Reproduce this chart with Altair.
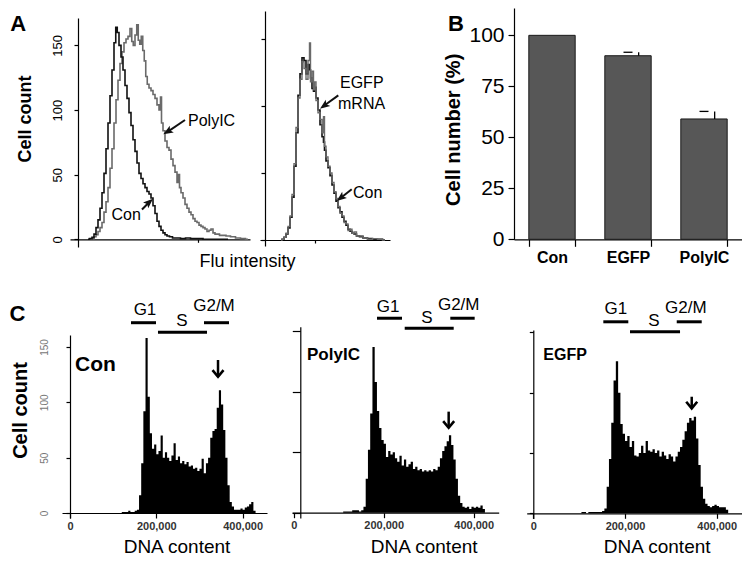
import altair as alt
import pandas as pd

FONT = "Liberation Sans"
W, H = 734, 549

# ======================= DATA =======================
# ---- Panel A (left): flow cytometry histograms (Con vs PolyIC) ----
a1_con_x = [10, 13, 15, 17, 19, 21, 23, 25, 27, 29, 31, 33, 35, 37, 38.5, 40, 42, 44, 46, 48,
            50, 52, 54, 56, 58, 60, 62, 64, 66, 68, 70, 72, 74, 76, 78, 80, 82, 84, 86, 88,
            90, 93, 96, 100, 105, 110, 115, 120, 130, 140, 150]
a1_con_y = [0, 0.5, 1.5, 4, 9, 15, 24, 36, 51, 70, 90, 111, 131, 152, 164, 160, 150, 141, 131, 119,
            109, 98, 88, 77, 68, 59, 51, 47, 43, 40, 37, 35, 32, 26, 20, 14, 10, 7, 5, 3.5,
            2.5, 2, 1, 1, 0.5, 1, 0.5, 0.5, 0, 0, 0]
a1_pic_x = [12, 15, 17, 19, 21, 23, 25, 27, 29, 31, 33, 35, 37, 39, 41, 43, 45, 47, 49, 51,
            53, 54.5, 56, 58, 59.5, 61, 62.5, 64, 65.5, 67, 68.5, 70, 72, 74, 76, 78, 80, 82, 83, 84,
            86, 88, 90, 92, 94, 96, 98, 100, 101, 102, 104, 106, 108, 110, 112, 114, 116, 118, 120, 122,
            124, 126, 128, 130, 132, 134, 136, 138, 140, 143, 146, 150, 155, 160, 165, 170]
a1_pic_y = [0, 0.5, 2, 3.5, 6, 9, 13, 21, 29, 40, 55, 70, 90, 108, 123, 136, 145, 152, 155, 157,
            163, 153, 150, 158, 166, 154, 151, 157, 146, 138, 126, 120, 117, 115, 112, 109, 104, 100, 110, 90,
            84, 76, 71, 69, 62, 57, 52, 44, 50, 40, 36, 32, 27, 24, 21, 19, 16, 14, 13, 11,
            10, 9, 8, 6, 7, 8, 5, 4, 4, 3, 3, 2.5, 2, 1, 0.5, 0]

# ---- Panel A (right): Con vs EGFP mRNA ----
a2_x = [16, 18, 20, 22, 24, 26, 28, 30, 32, 34, 36, 38, 40, 42, 44, 45, 46, 48, 49, 50,
        52, 54, 56, 58, 59, 60, 62, 64, 66, 68, 70, 72, 74, 76, 78, 80, 82, 84, 86, 88,
        90, 93, 96, 100, 105, 110, 115, 120]
a2_con_y = [0, 0.5, 2, 4.5, 9, 17, 32, 55, 80, 108, 124, 136, 134, 124, 131, 127, 121, 113, 111, 114,
            106, 97, 86, 77, 73, 67, 59, 54, 48, 41, 35, 29, 24, 21, 17, 14, 11, 8, 6.5, 5,
            4.5, 3, 2.5, 1.5, 1, 0.5, 0.5, 0]
a2_egfp_y = [0, 0.5, 2, 5, 10, 18, 34, 57, 84, 106, 120, 133, 128, 120, 134, 147, 118, 126, 112, 118,
             104, 95, 90, 80, 92, 70, 62, 55, 50, 43, 36, 31, 25, 20, 18, 13, 12, 7, 8, 5,
             6, 3, 3, 1.5, 0.5, 1, 0.5, 0]

# annotations of panel A
a1_text = ["PolyIC", "Con"]
a1_text_x = [110, 33.5]
a1_text_y = [91.5, 18.8]
a1_arrow_x = [107, 64]
a1_arrow_y = [92.3, 23.0]
a1_head_x = [90.6, 70.4]
a1_head_y = [83.7, 28.1]
a1_head_angle = [238.5, 47.8]

a2_text = ["EGFP", "mRNA", "Con"]
a2_text_x = [75, 73, 88]
a2_text_y = [117.2, 101.5, 35.1]
a2_arrow_x = [73.3, 86.7]
a2_arrow_y = [107.9, 37.8]
a2_head_x = [60, 76.6]
a2_head_y = [100.7, 31.9]
a2_head_angle = [233.8, 232.1]

# ---- Panel B ----
b_groups = ["Con", "EGFP", "PolyIC"]
b_values = [100, 90, 59]
b_errors = [0, 1.7, 3.7]

# ---- Panel C: DNA content histograms ----
c_bin_width = 5000
c_con_start = 120000
c_con_counts = [1, 1, 1, 2, 1, 1, 2, 3, 16, 45, 92, 158, 105, 72, 58, 62, 53, 56, 70, 50,
                55, 50, 47, 52, 63, 48, 51, 45, 47, 44, 46, 42, 43, 40, 41, 38, 40, 49, 36, 45,
                50, 68, 74, 76, 95, 111, 98, 75, 50, 25, 10, 6, 3, 3, 3, 4, 3, 5, 6, 8, 10, 2]
c_pic_start = 110000
c_pic_counts = [1, 1, 1, 1, 2, 2, 2, 1, 2, 5, 28, 52, 82, 137, 108, 84, 70, 60, 57, 46,
                51, 48, 50, 45, 42, 47, 39, 44, 38, 40, 42, 36, 38, 35, 36, 34, 35, 34, 35, 34,
                36, 35, 38, 45, 51, 55, 59, 64, 56, 44, 28, 14, 8, 5, 4, 5, 3, 5, 4, 5, 4, 6, 3]
c_egfp_start = 105000
c_egfp_counts = [1, 1, 0, 1, 1, 1, 1, 1, 1, 2, 4, 22, 45, 75, 110, 126, 100, 74, 66, 60,
                 64, 55, 60, 48, 47, 50, 56, 50, 60, 52, 51, 53, 50, 52, 47, 51, 48, 45, 49, 47,
                 43, 47, 51, 55, 61, 68, 75, 79, 77, 80, 62, 40, 22, 12, 8, 6, 5, 6, 7, 6,
                 5, 5, 5, 3]

c_phases = ["G1", "S", "G2/M"]
c_con_bar_x1 = [141400, 203900, 310500]
c_con_bar_x2 = [199300, 317500, 368500]
c_con_bar_y = [171.9, 163.2, 171.9]
c_con_lab_x = [173800, 259600, 333700]
c_con_lab_y = [183.4, 173.4, 187.0]
c_pic_bar_x1 = [185100, 246700, 348000]
c_pic_bar_x2 = [240700, 355600, 402200]
c_pic_bar_y = [160.7, 152.4, 160.7]
c_pic_lab_x = [209600, 296200, 366700]
c_pic_lab_y = [170.2, 160.7, 171.7]
c_egfp_bar_x1 = [152700, 210900, 312800]
c_egfp_bar_x2 = [207200, 320000, 367300]
c_egfp_bar_y = [158.7, 150.5, 158.7]
c_egfp_lab_x = [179900, 263300, 332600]
c_egfp_lab_y = [169.1, 159.5, 170.5]

# G2/M arrows (x, shaft top, tip)
c_arrow_x = [343000, 344400, 345500]
c_arrow_top = [138.2, 83.5, 96.6]
c_arrow_tip = [123.1, 70.2, 87.0]
c_head_y = [126.1, 72.9, 89.7]

c_names = ["Con", "PolyIC", "EGFP"]
c_name_x = [11600, 29600, 21800]
c_name_y = [133.7, 130.3, 131.2]
c_name_size = [21, 17, 16]

# ======================= HELPERS =======================
AX = dict(grid=False, domainColor="black", tickColor="black", labelColor="black",
          titleColor="black", domainWidth=1.2, tickWidth=1.2, labelFont=FONT, titleFont=FONT)


def sc(dom, rng):
    return alt.Scale(domain=list(dom), range=list(rng), nice=False, zero=False)


def ax_x(gy, **kw):
    d = dict(AX, orient="bottom", offset=gy - H, labelFlush=False)
    d.update(kw)
    return alt.Axis(**d)


def ax_y(gx, **kw):
    d = dict(AX, orient="left", offset=-gx)
    d.update(kw)
    return alt.Axis(**d)


def enc_xy(P, xf="x:Q", yf="y:Q", xaxis=None, yaxis=None):
    return dict(x=alt.X(xf, scale=sc(P["xd"], P["xr"]), axis=xaxis),
                y=alt.Y(yf, scale=sc(P["yd"], P["yr"]), axis=yaxis))


def text_layer(P, texts, xs, ys, size, weight="normal", align="left"):
    df = pd.DataFrame({"x": xs, "y": ys, "t": texts})
    return alt.Chart(df).mark_text(align=align, baseline="middle", fontSize=size,
                                   fontWeight=weight, font=FONT, color="black").encode(
        text="t:N", **enc_xy(P))


def arrow_layers(P, ax, ay, hx, hy, ang):
    df = pd.DataFrame({"x": ax, "y": ay, "hx": hx, "hy": hy, "a": ang})
    shaft = alt.Chart(df).mark_rule(color="#111", strokeWidth=2).encode(
        x2="hx:Q", y2="hy:Q", **enc_xy(P))
    head = alt.Chart(df).mark_point(shape="M0,-1L0.62,0.6L0,0.25L-0.62,0.6Z", filled=True,
                                    size=156, color="#111", opacity=1, strokeWidth=0).encode(
        angle=alt.Angle("a:Q", scale=None), **enc_xy(P, "hx:Q", "hy:Q"))
    return [shaft, head]


def hist_df(start, counts):
    xs = [start + i * c_bin_width for i in range(len(counts))] + [start + len(counts) * c_bin_width]
    return pd.DataFrame({"x": xs, "y": list(counts) + [0]})


# ======================= GEOMETRY =======================
PA1 = dict(xd=(-8, 172), xr=(62, 242), yd=(-5.96, 171.2), yr=(239, 10))
PA2 = dict(xd=(-5, 125), xr=(252, 382), yd=(-4.5, 170.9), yr=(238, 3))
PC = [dict(xd=(-18500, 456500), xr=(54, 259), yd=(-4.5, 160.8), yr=(510, 327), gx=62, gy=505,
           tick=4, labels=True, title_x=168.5),
      dict(xd=(-3800, 455600), xr=(284, 490.7), yd=(-4.4, 153.7), yr=(510, 318.7), gx=292.3, gy=504.7,
           tick=8, labels=False, title_x=415.7),
      dict(xd=(-14400, 454500), xr=(518.7, 733.7), yd=(-4.3, 151.9), yr=(510.5, 322), gx=525.3, gy=505.3,
           tick=4, labels=False, title_x=648.7)]

layers = []

# ---------------- Panel A left ----------------
df = pd.DataFrame({"x": a1_pic_x, "y": a1_pic_y})
layers.append(alt.Chart(df).mark_line(interpolate="step", color="#6a6a6a", strokeWidth=1.6).encode(
    **enc_xy(PA1,
             xaxis=ax_x(231.3, values=[120], labels=False, tickSize=3, title="Flu intensity",
                        titleX=239, titleY=26.7, titleBaseline="alphabetic", titleAlign="center",
                        titleFontSize=18, titleFontWeight="normal"),
             yaxis=ax_y(70, values=[0, 50, 100, 150], tickSize=4, labelAngle=270,
                        labelAlign="center", labelBaseline="middle", labelPadding=17,
                        labelFontSize=13, title="Cell count", titleX=-52.2, titleY=110.5,
                        titleAngle=270, titleAlign="center", titleBaseline="middle",
                        titleFontSize=18, titleFontWeight="bold"))))
df = pd.DataFrame({"x": a1_con_x, "y": a1_con_y})
layers.append(alt.Chart(df).mark_line(interpolate="step", color="#111", strokeWidth=1.6).encode(
    **enc_xy(PA1)))
layers.append(text_layer(PA1, a1_text, a1_text_x, a1_text_y, 16))
layers += arrow_layers(PA1, a1_arrow_x, a1_arrow_y, a1_head_x, a1_head_y, a1_head_angle)
layers.append(text_layer(PA1, ["A"], [-59.7], [166.5], 22, "bold", "center"))

# ---------------- Panel A right ----------------
df = pd.DataFrame({"x": a2_x, "y": a2_con_y})
layers.append(alt.Chart(df).mark_line(interpolate="step", color="#111", strokeWidth=1.6).encode(
    **enc_xy(PA2,
             xaxis=ax_x(232, values=[50], labels=False, tickSize=3, title=None),
             yaxis=ax_y(257, values=[0, 50, 100, 150], labels=False, tickSize=4, title=None))))
df = pd.DataFrame({"x": a2_x, "y": a2_egfp_y})
layers.append(alt.Chart(df).mark_line(interpolate="step", color="#6a6a6a", strokeWidth=1.4).encode(
    **enc_xy(PA2)))
layers.append(text_layer(PA2, a2_text, a2_text_x, a2_text_y, 16))
layers += arrow_layers(PA2, a2_arrow_x, a2_arrow_y, a2_head_x, a2_head_y, a2_head_angle)
layers.append(text_layer(PA2, ["B"], [191], [161], 22, "bold", "center"))

# ---------------- Panel B ----------------
b_df = pd.DataFrame({"g": b_groups, "v": b_values, "e": b_errors})
b_df["top"] = b_df["v"] + b_df["e"]
band = alt.Scale(domain=b_groups, range=[506, 734], paddingInner=0.39, paddingOuter=0.195)
by = sc((0, 113.4), (231.3, 0))
layers.append(alt.Chart(b_df).mark_bar(color="#575757", stroke="#1a1a1a", strokeWidth=1).encode(
    x=alt.X("g:N", scale=band, sort=b_groups,
            axis=ax_x(231.3, tickBand="extent", tickSize=7, labelPadding=3, labelFontSize=16,
                      labelFontWeight="bold", labelAngle=0, title=None)),
    y=alt.Y("v:Q", scale=by,
            axis=ax_y(506, values=[0, 25, 50, 75, 100], tickSize=6, labelPadding=4,
                      labelFontSize=21, title="Cell number (%)", titleX=-61, titleY=121.3,
                      titleAngle=270, titleAlign="center", titleBaseline="middle",
                      titleFontSize=20, titleFontWeight="bold"))))
err = alt.Chart(b_df).transform_filter("datum.e > 0")
layers.append(err.mark_rule(color="black", strokeWidth=1.3).encode(
    x=alt.X("g:N", scale=band, sort=b_groups, bandPosition=0.73, axis=None),
    y=alt.Y("v:Q", scale=by, axis=None), y2="top:Q"))
layers.append(err.mark_tick(orient="horizontal", size=9, thickness=1.3, color="black", opacity=1).encode(
    x=alt.X("g:N", scale=band, sort=b_groups, bandPosition=0.73, axis=None),
    y=alt.Y("top:Q", scale=by, axis=None)))

# ---------------- Panel C ----------------
c_counts = [(c_con_start, c_con_counts), (c_pic_start, c_pic_counts), (c_egfp_start, c_egfp_counts)]
c_bars = [(c_con_bar_x1, c_con_bar_x2, c_con_bar_y, c_con_lab_x, c_con_lab_y),
          (c_pic_bar_x1, c_pic_bar_x2, c_pic_bar_y, c_pic_lab_x, c_pic_lab_y),
          (c_egfp_bar_x1, c_egfp_bar_x2, c_egfp_bar_y, c_egfp_lab_x, c_egfp_lab_y)]

for i, P in enumerate(PC):
    start, counts = c_counts[i]
    yax_kw = dict(values=[0, 50, 100, 150], tickSize=P["tick"], title=None)
    if P["labels"]:
        yax_kw.update(labelAngle=270, labelAlign="center", labelBaseline="middle",
                      labelPadding=22, labelFontSize=10, labelColor="#777",
                      title="Cell count", titleX=12 - P["gx"], titleY=402, titleAngle=270,
                      titleAlign="center", titleBaseline="middle", titleFontSize=20,
                      titleFontWeight="bold")
    else:
        yax_kw.update(labels=False)
    layers.append(alt.Chart(hist_df(start, counts)).mark_area(
        interpolate="step-after", color="black", opacity=1).encode(
        y2=alt.datum(0),
        **enc_xy(P,
                 xaxis=ax_x(P["gy"], values=[0, 200000, 400000], format=",d", tickSize=5,
                            labelPadding=2, labelFontSize=11, labelFontWeight="bold",
                            labelColor="#333", title="DNA content", titleX=P["title_x"],
                            titleY=544 - P["gy"], titleBaseline="alphabetic", titleAlign="center",
                            titleFontSize=19, titleFontWeight="normal"),
                 yaxis=ax_y(P["gx"], **yax_kw))))
    x1, x2, by_, lx, ly = c_bars[i]
    bdf = pd.DataFrame({"x": x1, "x2": x2, "y": by_})
    layers.append(alt.Chart(bdf).mark_rule(color="black", strokeWidth=3).encode(
        x2="x2:Q", **enc_xy(P)))
    layers.append(text_layer(P, c_phases, lx, ly, 17, "normal", "center"))
    adf = pd.DataFrame({"x": [c_arrow_x[i]], "y": [c_arrow_top[i]], "y2": [c_arrow_tip[i]],
                        "hy": [c_head_y[i]]})
    layers.append(alt.Chart(adf).mark_rule(color="black", strokeWidth=2.5).encode(
        y2="y2:Q", **enc_xy(P)))
    layers.append(alt.Chart(adf).mark_point(shape="M-1,-0.6L0,0.6L1,-0.6", filled=False, size=121,
                                            color="black", strokeWidth=2.6, opacity=1).encode(
        **enc_xy(P, "x:Q", "hy:Q")))
    layers.append(text_layer(P, [c_names[i]], [c_name_x[i]], [c_name_y[i]],
                             c_name_size[i], "bold", "left"))

layers.append(text_layer(PC[0], ["C"], [-121600], [179.8], 22, "bold", "center"))

chart = alt.layer(*layers).resolve_scale(x="independent", y="independent").properties(
    width=W, height=H, padding=0, autosize=alt.AutoSizeParams(type="none")
).configure(font=FONT, background="white").configure_view(stroke=None)

chart.save("out.html", embed_options={"renderer": "svg", "actions": False})
